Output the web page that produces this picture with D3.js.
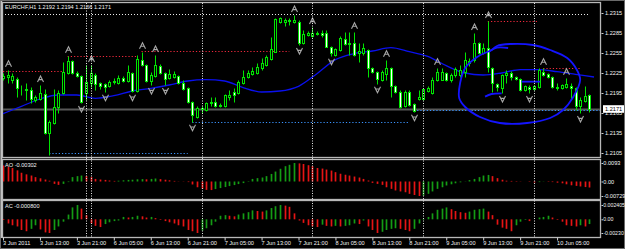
<!DOCTYPE html>
<html>
<head>
<meta charset="utf-8">
<title>EURCHF,H1</title>
<script src="https://cdn.jsdelivr.net/npm/d3@7"></script>
<style>
  html, body { margin: 0; padding: 0; background: #000; }
  svg { display: block; }
  text { font-family: "Liberation Sans", Arial, sans-serif; font-size: 5.6px; fill: #f4f4f4; }
</style>
</head>
<body>
<svg id="chart" width="625" height="249"></svg>
<script>
var symbol = "EURCHF,H1";

// H1 bars, 3 Jun 2011 05:00 .. 10 Jun 2011 11:00
var open = [1.2218,1.2219,1.2215,1.2216,1.2201,1.2200,1.2200,1.2185,1.2186,1.2194,
  1.2135,1.2150,1.2174,1.2195,1.2225,1.2243,1.2225,1.2221,1.2195,1.2210,
  1.2222,1.2210,1.2209,1.2206,1.2212,1.2210,1.2218,1.2213,1.2225,1.2198,
  1.2245,1.2237,1.2213,1.2221,1.2236,1.2225,1.2218,1.2219,1.2221,1.2210,
  1.2203,1.2182,1.2159,1.2171,1.2170,1.2180,1.2182,1.2176,1.2176,1.2189,
  1.2197,1.2195,1.2210,1.2219,1.2224,1.2225,1.2233,1.2237,1.2246,1.2257,
  1.2302,1.2302,1.2303,1.2302,1.2302,1.2270,1.2282,1.2281,1.2284,1.2285,
  1.2285,1.2264,1.2252,1.2260,1.2276,1.2270,1.2270,1.2255,1.2255,1.2260,
  1.2233,1.2227,1.2215,1.2224,1.2233,1.2206,1.2197,1.2176,1.2197,1.2179,
  1.2186,1.2186,1.2198,1.2195,1.2215,1.2215,1.2225,1.2215,1.2222,1.2222,
  1.2227,1.2240,1.2245,1.2270,1.2255,1.2263,1.2233,1.2209,1.2203,1.2222,
  1.2225,1.2219,1.2216,1.2200,1.2204,1.2201,1.2204,1.2227,1.2224,1.2219,
  1.2203,1.2203,1.2204,1.2206,1.2203,1.2176,1.2183,1.2192];
var high = [1.2225,1.2230,1.2225,1.2219,1.2207,1.2210,1.2204,1.2192,1.2207,1.2201,
  1.2155,1.2201,1.2200,1.2242,1.2251,1.2245,1.2228,1.2222,1.2237,1.2237,
  1.2225,1.2212,1.2210,1.2215,1.2218,1.2222,1.2221,1.2237,1.2227,1.2252,
  1.2257,1.2239,1.2227,1.2252,1.2239,1.2227,1.2231,1.2228,1.2222,1.2215,
  1.2204,1.2183,1.2176,1.2176,1.2182,1.2189,1.2189,1.2180,1.2194,1.2200,
  1.2203,1.2215,1.2230,1.2230,1.2234,1.2240,1.2248,1.2252,1.2279,1.2308,
  1.2309,1.2308,1.2308,1.2312,1.2305,1.2290,1.2288,1.2294,1.2288,1.2290,
  1.2290,1.2266,1.2263,1.2281,1.2287,1.2287,1.2287,1.2270,1.2270,1.2261,
  1.2234,1.2228,1.2230,1.2245,1.2234,1.2207,1.2200,1.2200,1.2200,1.2180,
  1.2200,1.2203,1.2206,1.2219,1.2233,1.2233,1.2227,1.2225,1.2234,1.2237,
  1.2257,1.2248,1.2285,1.2272,1.2270,1.2303,1.2234,1.2210,1.2224,1.2230,
  1.2228,1.2221,1.2218,1.2207,1.2207,1.2207,1.2233,1.2233,1.2225,1.2221,
  1.2210,1.2209,1.2218,1.2210,1.2204,1.2189,1.2206,1.2194];
var low = [1.2215,1.2210,1.2210,1.2189,1.2192,1.2185,1.2180,1.2182,1.2185,1.2134,
  1.2102,1.2149,1.2165,1.2194,1.2224,1.2224,1.2219,1.2180,1.2185,1.2204,
  1.2200,1.2201,1.2197,1.2204,1.2209,1.2209,1.2212,1.2212,1.2197,1.2197,
  1.2236,1.2212,1.2207,1.2219,1.2224,1.2207,1.2216,1.2218,1.2209,1.2200,
  1.2180,1.2152,1.2158,1.2165,1.2168,1.2176,1.2174,1.2174,1.2174,1.2185,
  1.2182,1.2194,1.2209,1.2218,1.2222,1.2224,1.2230,1.2236,1.2245,1.2257,
  1.2300,1.2296,1.2297,1.2300,1.2267,1.2269,1.2281,1.2279,1.2282,1.2279,
  1.2264,1.2251,1.2251,1.2258,1.2267,1.2252,1.2251,1.2242,1.2252,1.2219,
  1.2225,1.2209,1.2213,1.2215,1.2189,1.2195,1.2173,1.2174,1.2176,1.2167,
  1.2185,1.2185,1.2197,1.2194,1.2213,1.2215,1.2213,1.2212,1.2219,1.2219,
  1.2219,1.2236,1.2242,1.2254,1.2254,1.2227,1.2197,1.2198,1.2195,1.2210,
  1.2215,1.2215,1.2198,1.2198,1.2195,1.2200,1.2203,1.2221,1.2218,1.2203,
  1.2200,1.2201,1.2203,1.2185,1.2170,1.2165,1.2182,1.2166];
var close = [1.2221,1.2222,1.2221,1.2203,1.2201,1.2201,1.2186,1.2189,1.2195,1.2135,
  1.2152,1.2174,1.2195,1.2227,1.2243,1.2225,1.2221,1.2182,1.2212,1.2225,
  1.2209,1.2206,1.2204,1.2212,1.2213,1.2218,1.2213,1.2227,1.2198,1.2246,
  1.2237,1.2213,1.2222,1.2237,1.2225,1.2216,1.2224,1.2224,1.2210,1.2201,
  1.2182,1.2162,1.2173,1.2173,1.2180,1.2182,1.2176,1.2177,1.2192,1.2192,
  1.2192,1.2212,1.2219,1.2225,1.2228,1.2234,1.2240,1.2249,1.2261,1.2306,
  1.2308,1.2305,1.2304,1.2305,1.2270,1.2284,1.2285,1.2285,1.2285,1.2282,
  1.2264,1.2255,1.2261,1.2278,1.2269,1.2269,1.2252,1.2258,1.2263,1.2233,
  1.2227,1.2216,1.2227,1.2233,1.2206,1.2197,1.2174,1.2197,1.2177,1.2168,
  1.2189,1.2201,1.2203,1.2215,1.2227,1.2227,1.2215,1.2222,1.2231,1.2230,
  1.2245,1.2243,1.2270,1.2255,1.2263,1.2234,1.2210,1.2204,1.2222,1.2225,
  1.2219,1.2216,1.2200,1.2206,1.2201,1.2206,1.2230,1.2222,1.2219,1.2204,
  1.2204,1.2207,1.2209,1.2203,1.2176,1.2185,1.2191,1.2171];

// moving average, read every 4 bars
var maIndex = [0,4,8,12,16,20,24,28,32,36,40,44,48,52,56,60,64,68,72,76,80,84,88,92,96,100,104,108,112,116,120,124,128];
var maValue = [1.2164,1.2175,1.2186,1.2192,1.2192,1.2187,1.2191,1.2198,1.2202,1.2207,1.2213,1.2215,1.2213,1.2203,1.21965,1.2198,
  1.2205,1.2224,1.2245,1.2254,1.2258,1.2263,1.2257,1.2250,1.2236,1.2225,1.2222,1.2225,1.2230,1.2230,1.2227,1.2223,1.2219];

var ao = [0.0080,0.0074,0.0068,0.0056,0.0044,0.0036,0.0030,0.0022,0.0016,0.0010,
  0.0004,-0.0012,-0.0017,-0.0012,-0.0003,0.0022,0.0027,0.0030,0.0027,0.0022,
  0.0013,0.0010,0.0008,0.0005,0.0003,0.0004,0.0006,0.0008,0.0009,0.0011,
  0.0012,0.0011,0.0013,0.0015,0.0012,0.0009,0.0006,0.0003,0.0001,-0.0001,
  -0.0003,-0.0015,-0.0029,-0.0037,-0.0042,-0.0043,-0.0038,-0.0033,-0.0028,-0.0023,
  -0.0018,-0.0013,-0.0008,-0.0002,0.0013,0.0017,0.0020,0.0027,0.0038,0.0050,
  0.0064,0.0077,0.0084,0.0093,0.0091,0.0088,0.0082,0.0077,0.0068,0.0065,
  0.0060,0.0055,0.0047,0.0039,0.0034,0.0030,0.0025,0.0020,0.0013,0.0005,
  -0.0007,-0.0012,-0.0017,-0.0029,-0.0037,-0.0045,-0.0050,-0.0054,-0.0062,-0.0068,
  -0.0073,-0.0071,-0.0062,-0.0050,-0.0037,-0.0029,-0.0020,-0.0014,-0.0009,-0.0004,
  0.0001,0.0007,0.0013,0.0022,0.0030,0.0033,0.0027,0.0017,0.0009,0.0004,
  0.0003,0.0002,0.0001,0.0000,-0.0002,-0.0005,-0.0003,-0.0001,-0.0002,-0.0003,
  -0.0006,-0.0009,-0.0014,-0.0019,-0.0022,-0.0025,-0.0028,-0.00302];
var ac = [-0.0001,-0.0007,-0.0010,-0.0012,-0.0018,-0.0020,-0.0016,-0.0010,-0.0017,-0.0022,
  -0.0023,-0.0018,-0.0012,-0.0004,0.0008,0.0020,0.0024,0.0018,0.0007,-0.0007,
  -0.0011,-0.0013,-0.0008,-0.0005,-0.0003,-0.0002,0.0004,0.0003,0.0004,0.0006,
  0.0005,0.0003,0.0004,0.0002,-0.0001,-0.0003,-0.0005,-0.0007,-0.0010,-0.0012,
  -0.0018,-0.0020,-0.0023,-0.0019,-0.0015,-0.0010,-0.0004,0.0006,0.0007,0.0006,
  0.0005,0.0008,0.0010,0.0012,0.0015,0.0014,0.0013,0.0015,0.0019,0.0022,
  0.0024,0.0023,0.0021,0.0010,-0.0002,-0.0006,-0.0010,-0.0012,-0.0013,-0.0009,
  -0.0011,-0.0012,-0.0011,-0.0012,-0.0011,-0.0010,-0.0007,-0.0008,-0.0002,-0.0012,
  -0.0018,-0.0023,-0.0021,-0.0018,-0.0016,-0.0015,-0.0016,-0.0018,-0.0020,-0.0016,
  -0.0007,-0.0001,0.0004,0.0010,0.0016,0.0018,0.0020,0.0017,0.0014,0.0012,
  0.0011,0.0013,0.0016,0.0017,0.0018,0.0013,0.0007,-0.0009,-0.0014,-0.0016,
  -0.0020,-0.0010,-0.0004,-0.0001,-0.0003,0.0000,0.0003,0.0004,0.0006,0.0003,
  -0.0001,-0.0004,-0.0010,-0.0011,-0.0012,-0.0010,-0.0012,-0.0008];

var fractalUp = [1,8,14,19,30,33,63,67,76,83,94,102,105,117,122];
var fractalDown = [10,17,22,28,32,35,41,64,71,81,89,108,114,125];

// dotted levels: bar from, bar to, price
var resStart = [0,14,30,105,117];
var resEnd = [13,29,62,116,125];
var resPrice = [1.2228,1.2251,1.2258,1.2303,1.2233];
var supStart = [10,41,89];
var supEnd = [40,88,130];
var supPrice = [1.2105,1.2152,1.2170];
var topLevel = 1.2313;

var separators = [18,19,43,67,91,115];
var timeIndex = [0,8,16,24,32,40,48,56,64,72,80,88,96,104,112,120];
var timeLabels = ["3 Jun 2011","3 Jun 13:00","3 Jun 21:00","6 Jun 05:00","6 Jun 13:00","6 Jun 21:00",
  "7 Jun 05:00","7 Jun 13:00","7 Jun 21:00","8 Jun 05:00","8 Jun 13:00","8 Jun 21:00",
  "9 Jun 05:00","9 Jun 13:00","9 Jun 21:00","10 Jun 05:00"];
var priceTicks = [1.2315,1.2285,1.2255,1.2225,1.2195,1.2165,1.2135,1.2105];
var aoTicks = [0.0093,0,-0.00729];
var aoTickText = ["0.0093","0.00","-0.00729"];
var acTicks = [0.002405,0,-0.0023];
var acTickText = ["0.002405","0.00","-0.00230"];

// hand drawn loop on the chart (bar, price)
var loopPoints = [[105.9,1.22595],[107.0,1.22655],[109.8,1.22685],[114.8,1.2267],[118.5,1.22595],[122.2,1.22475],
  [124.3,1.22295],[125.0,1.22145],[123.5,1.2189],[121.3,1.21695],[118.5,1.21575],[113.5,1.2150],[107.6,1.2150],
  [103.3,1.2159],[100.1,1.2174],[98.8,1.21875],[99.0,1.2210],[100.1,1.22325],[102.7,1.2249],[105.9,1.22595]];
var strokes = [
  [[105.2,1.2257],[107.0,1.2263],[109.4,1.22625]],
  [[112.3,1.2212],[116.3,1.2212]],
  [[104.4,1.21895],[105.8,1.21935],[108.0,1.21945]]
];

var lime = "#00e400";
var upColor = "#149c14";
var downColor = "#e61414";

var svg = d3.select("#chart");
svg.append("rect").attr("width", 625).attr("height", 249).attr("fill", "#000");

var x = d3.scaleLinear().domain([0, 127]).range([3, 589.4]);
var y = d3.scaleLinear().domain([1.2105, 1.2315]).range([153, 13]);
var yAO = d3.scaleLinear().domain([-0.00729, 0.0093]).range([196, 163]);
var yAC = d3.scaleLinear().domain([-0.0023, 0.002405]).range([233, 205]);

function cx(i) { return Math.round(x(i)) + 0.5; }
function py(p) { return Math.round(y(p)) + 0.5; }

var defs = svg.append("defs");
function addClip(id, top, bottom) {
  defs.append("clipPath").attr("id", id)
    .append("rect").attr("x", 3).attr("y", top).attr("width", 597).attr("height", bottom - top);
}
addClip("clipMain", 3, 157);
addClip("clipAO", 160, 199);
addClip("clipAC", 201, 237);

// frames
svg.append("rect").attr("x", 0.5).attr("y", 0.5).attr("width", 624).attr("height", 248)
  .attr("fill", "none").attr("stroke", "#6a6a6a");
svg.append("line").attr("x1", 1.5).attr("x2", 1.5).attr("y1", 1).attr("y2", 238)
  .attr("stroke", "#c4c4c4").attr("stroke-width", 1.5);
[[2.5, 157.5], [159.5, 199.5], [200.5, 237.5]].forEach(function(p) {
  svg.append("rect").attr("x", 2.5).attr("y", p[0]).attr("width", 598).attr("height", p[1] - p[0])
    .attr("fill", "none").attr("stroke", "#b8b8b8").attr("stroke-width", 1.3);
});

var main = svg.append("g").attr("clip-path", "url(#clipMain)");
var aoPanel = svg.append("g").attr("clip-path", "url(#clipAO)");
var acPanel = svg.append("g").attr("clip-path", "url(#clipAC)");

// period separators through all panels
svg.append("g").selectAll("line").data(separators).enter().append("line")
  .attr("x1", d => cx(d)).attr("x2", d => cx(d))
  .attr("y1", 3).attr("y2", 237)
  .attr("stroke", "#e6e6e6").attr("stroke-dasharray", "1,1.5");

// levels
main.append("line")
  .attr("x1", x(0) + 2).attr("x2", x(127)).attr("y1", py(topLevel)).attr("y2", py(topLevel))
  .attr("stroke", "#ececec").attr("stroke-dasharray", "1,2");
main.selectAll(".res").data(resPrice).enter().append("line").classed("res", true)
  .attr("x1", (d, i) => x(resStart[i])).attr("x2", (d, i) => x(resEnd[i]))
  .attr("y1", d => py(d)).attr("y2", d => py(d))
  .attr("stroke", "#f0283c").attr("stroke-width", 1.2).attr("stroke-dasharray", "1.2,2");

// bid line
var bid = close[close.length - 1];
main.append("line").attr("x1", 3).attr("x2", 601).attr("y1", py(bid)).attr("y2", py(bid))
  .attr("stroke", "#585858").attr("stroke-width", 1.8);

main.selectAll(".sup").data(supPrice).enter().append("line").classed("sup", true)
  .attr("x1", (d, i) => x(supStart[i])).attr("x2", (d, i) => x(supEnd[i]))
  .attr("y1", d => py(d)).attr("y2", d => py(d))
  .attr("stroke", "#3a94ff").attr("stroke-width", 1.2).attr("stroke-dasharray", "1.2,2");

// moving average
var maLine = d3.line().x(d => x(d[0])).y(d => y(d[1])).curve(d3.curveMonotoneX);
main.append("path")
  .datum(maIndex.map((d, i) => [d, maValue[i]]))
  .attr("d", maLine)
  .attr("fill", "none").attr("stroke", "#0a10ee").attr("stroke-width", 1.3);

// candles
var bars = d3.range(open.length).map(function(i) {
  return { i: i, o: open[i], h: high[i], l: low[i], c: close[i] };
});
var candles = main.selectAll(".candle").data(bars).enter().append("g").classed("candle", true);
candles.append("line")
  .attr("x1", d => cx(d.i)).attr("x2", d => cx(d.i))
  .attr("y1", d => py(d.h)).attr("y2", d => py(d.l))
  .attr("stroke", lime);
candles.append("rect")
  .attr("x", d => cx(d.i) - 1)
  .attr("width", 2)
  .attr("y", d => py(Math.max(d.o, d.c)))
  .attr("height", d => Math.max(0, py(Math.min(d.o, d.c)) - py(Math.max(d.o, d.c))))
  .attr("fill", d => d.c >= d.o ? "#000" : "#ffffff")
  .attr("stroke", lime)
  .attr("shape-rendering", "crispEdges");

// fractal arrows
main.selectAll(".fup").data(fractalUp).enter().append("path").classed("fup", true)
  .attr("transform", d => "translate(" + cx(d) + "," + (y(high[d]) - 6) + ")")
  .attr("d", "M-3,3L0,-3L3,3M-1.6,0.6L1.6,0.6")
  .attr("fill", "none").attr("stroke", "#a8a8a8").attr("stroke-width", 1.1);
main.selectAll(".fdn").data(fractalDown).enter().append("path").classed("fdn", true)
  .attr("transform", d => "translate(" + cx(d) + "," + (y(low[d]) + 6) + ")")
  .attr("d", "M-3,-3L0,3L3,-3M-1.6,-0.6L1.6,-0.6")
  .attr("fill", "none").attr("stroke", "#a8a8a8").attr("stroke-width", 1.1);

// hand drawn marks
var freeLine = d3.line().x(d => x(d[0])).y(d => y(d[1])).curve(d3.curveCatmullRom);
main.append("path").datum(loopPoints).attr("d", freeLine)
  .attr("fill", "none").attr("stroke", "#1414ff").attr("stroke-width", 1.8);
main.selectAll(".stroke").data(strokes).enter().append("path").classed("stroke", true)
  .attr("d", freeLine)
  .attr("fill", "none").attr("stroke", "#1414ff").attr("stroke-width", 1.8);

svg.append("text").attr("x", 5).attr("y", 9)
  .text(symbol + " " + [open, high, low, close].map(a => a[a.length - 1].toFixed(4)).join(" "));

// AO and AC histograms
function histogram(panel, values, scale) {
  panel.selectAll(".bar").data(values).enter().append("line").classed("bar", true)
    .attr("x1", (d, i) => cx(i)).attr("x2", (d, i) => cx(i))
    .attr("y1", scale(0)).attr("y2", d => scale(d))
    .attr("stroke", (d, i) => (i > 0 && d > values[i - 1]) ? upColor : downColor)
    .attr("stroke-width", 1.7);
}
histogram(aoPanel, ao, yAO);
histogram(acPanel, ac, yAC);

svg.append("text").attr("x", 5).attr("y", 167).text("AO " + ao[ao.length - 1].toFixed(5));
svg.append("text").attr("x", 5).attr("y", 208).text("AC " + ac[ac.length - 1].toFixed(6));

// axes
function styleAxis(g) {
  g.attr("font-size", null).attr("font-family", null);
  g.select(".domain").remove();
  g.selectAll(".tick line").attr("stroke", "#d0d0d0");
}
svg.append("g").attr("transform", "translate(601.5,0)")
  .call(d3.axisRight(y).tickValues(priceTicks).tickSize(2).tickPadding(1.5).tickFormat(d3.format(".4f")))
  .call(styleAxis);
svg.append("g").attr("transform", "translate(601.5,0)")
  .call(d3.axisRight(yAO).tickValues(aoTicks).tickSize(1.5).tickPadding(0.3).tickFormat((d, i) => aoTickText[i]))
  .call(styleAxis);
var acAxis = svg.append("g").attr("transform", "translate(601.5,0)")
  .call(d3.axisRight(yAC).tickValues(acTicks).tickSize(1.5).tickPadding(0.3).tickFormat((d, i) => acTickText[i]))
  .call(styleAxis);
acAxis.selectAll(".tick text").style("font-size", "5.2px");
var xAxis = svg.append("g").attr("transform", "translate(0,237.5)")
  .call(d3.axisBottom(x).tickValues(timeIndex).tickSize(3).tickPadding(1).tickFormat((d, i) => timeLabels[i]))
  .call(styleAxis);
xAxis.selectAll(".tick text").attr("text-anchor", "start").attr("x", -0.5);

// current price box
var bidY = y(bid);
svg.append("rect").attr("x", 603).attr("y", bidY - 3.8).attr("width", 21).attr("height", 7.6).attr("fill", "#ffffff");
svg.append("text").attr("x", 605).attr("y", bidY + 2).style("fill", "#000").text(bid.toFixed(4));
</script>
</body>
</html>
